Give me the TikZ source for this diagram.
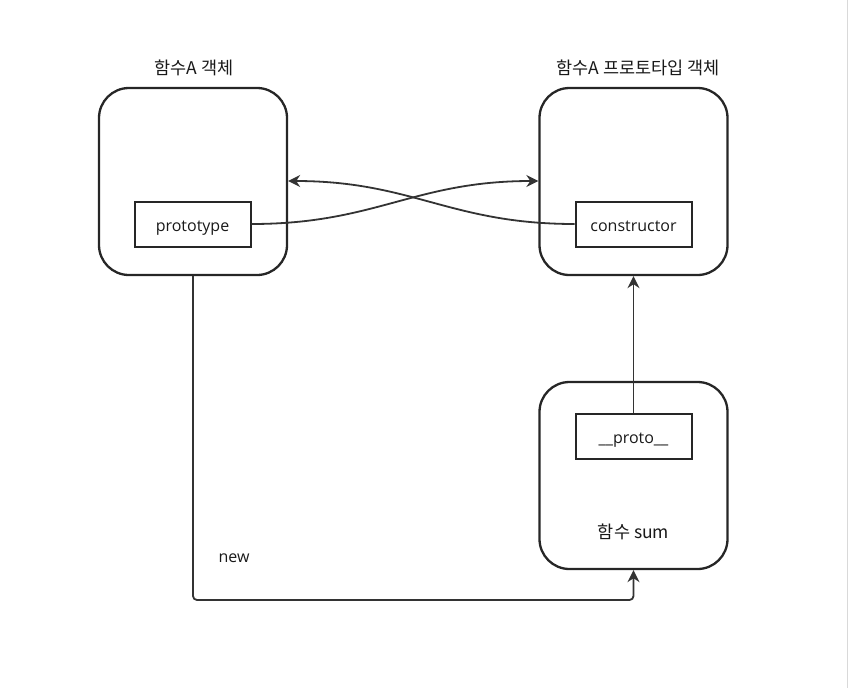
\documentclass[tikz,border=0pt]{standalone}
\usepackage{fontspec}
\setmainfont{Open Sans}
\newfontfamily\kr{Noto Sans CJK KR}
\usetikzlibrary{arrows.meta,positioning}

\begin{document}
\begin{tikzpicture}[x=1pt, y=-1pt,
    obj/.style={
        draw=black!85,
        line width=2.3pt,
        rounded corners=30pt,
        minimum width=188pt,
        minimum height=187pt
    },
    prop/.style={
        draw=black!85,
        line width=2pt,
        minimum width=116pt,
        minimum height=45pt,
        text height=16pt,
        text depth=1pt,
        text=black!90,
        font=\fontsize{16}{19}\selectfont
    },
    title/.style={
        text=black!90,
        font=\kr\fontsize{17.5}{21}\selectfont
    },
    link/.style={
        draw=black!80,
        line width=1.8pt,
        -{Stealth[length=12pt,width=12pt]}
    }
]
\useasboundingbox (0,0) rectangle (848,688);
\draw[black!15, line width=1pt] (847,0) -- (847,688);

%%%%%%%%%%%%%%%%%%%%%%%%
% Objects
%%%%%%%%%%%%%%%%%%%%%%%%

% --- 함수A ---
\node[obj] (funcA) at (193,181.5) {};
\node[title] (funcAtitle) at (194,68) {함수A 객체};
\node[prop] (prototype) at (192.5,224) {prototype};

% --- 프로토타입 ---
\node[obj] (protoObj) at (633.5,181.5) {};
\node[title] (protoTitle) at (638,68) {함수A 프로토타입 객체};
\node[prop] (constructor) at (633.5,224) {constructor};

% --- 함수 sum ---
\node[obj] (sum) at (633.5,475.5) {};
\node[prop] (dunder) at (633.5,436) {\_\_proto\_\_};
\node[title] (sumTitle) at (633.5,532) {함수 sum};

%%%%%%%%%%%%%%%%%%%%%%%%
% Links
%%%%%%%%%%%%%%%%%%%%%%%%

\draw[link] (prototype.east) to[out=0, in=180, looseness=1.1] (protoObj.west |- 0,181);
\draw[link] (constructor.west) to[out=180, in=0, looseness=1.1] (funcA.east |- 0,181);
\draw[link] (dunder.north) -- (protoObj.south);

% new
\coordinate (newturn) at (193,600);
\draw[link, rounded corners=4pt] (funcA.south) -- (newturn) -| (sum.south);
\node[text=black!90, font=\fontsize{16}{19}\selectfont] (newlabel) at (234,558) {new};

\end{tikzpicture}
\end{document}
